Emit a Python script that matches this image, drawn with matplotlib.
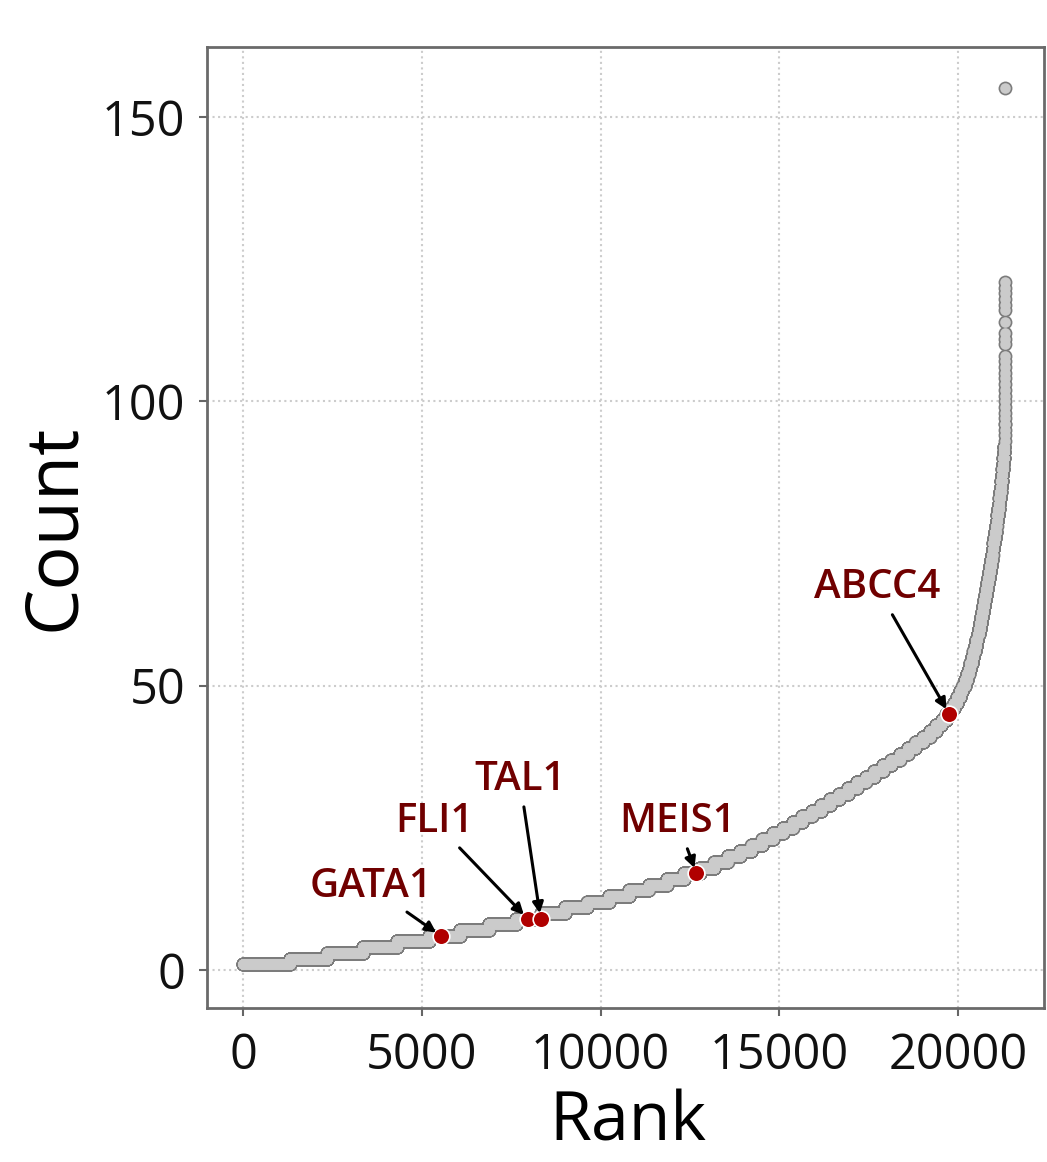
import numpy as np
import matplotlib
matplotlib.use("Agg")
import matplotlib.pyplot as plt

plt.rcParams["font.family"] = ["Open Sans", "DejaVu Sans"]

# Number of genes found at each count level 1..92 (read from the step widths)
genes_per_count = [
    1300, 1050, 1000, 950, 900, 860, 810, 760, 710,
    660, 630, 600, 570, 540, 510, 480, 450,
    400, 370, 345, 325, 305, 290, 280,
    275, 270, 265, 260, 256, 252, 249, 246, 244, 242, 240,
    238, 233, 226, 217, 206, 192, 175, 156, 135, 115,
    100, 88, 78,
    70, 63, 57, 52, 48, 45, 42, 40, 38, 36,
    34, 33, 32, 31, 30, 29, 28, 27, 27, 26, 26, 25,
    25, 24, 24, 23, 23, 22, 22, 21, 21, 20, 20, 19,
    18, 17, 17, 16, 15, 14, 13, 12, 11, 10,
]
count_levels = list(range(1, len(genes_per_count) + 1))

# Individual genes in the sparse upper tail
tail_counts = [93, 94, 95, 96, 96, 97, 98, 99, 100, 101, 102, 103, 104, 105,
               106, 107, 108, 110, 111, 112, 114, 116, 117, 118, 119, 120, 121, 155]

# Highlighted genes and their ranks
genes = ["GATA1", "FLI1", "TAL1", "MEIS1", "ABCC4"]
gene_ranks = [5530, 7960, 8320, 12680, 19750]

# Build the ranked series
counts = np.concatenate([np.repeat(count_levels, genes_per_count), tail_counts])
ranks = np.arange(len(counts))
gene_counts = counts[gene_ranks]

# label placement (data coords)
label_xy = [(3575, 14.6), (5360, 26.0), (7740, 33.4), (12150, 26.0), (17740, 67.1)]

fig = plt.figure(figsize=(10.47, 11.62), dpi=100)
ax = fig.add_axes([0.198, 0.1325, 0.799, 0.8271])

# outline layer then fill layer, so the band reads light grey with a dark rim
ax.plot(ranks, counts, "o", ms=10, mfc="#7c7c7c", mec="none", zorder=2)
ax.plot(ranks, counts, "o", ms=7.6, mfc="#cbcbcb", mec="none", zorder=2.1)
ax.plot(gene_ranks, gene_counts, "o", ms=12, mfc="#b00000", mec="white", mew=1.2, zorder=3)

for g, r, c, (tx, ty) in zip(genes, gene_ranks, gene_counts, label_xy):
    ax.annotate(g, xy=(r, c), xytext=(tx, ty), ha="center", va="center",
                fontsize=29, color="#700000", fontweight="semibold",
                arrowprops=dict(arrowstyle="-|>", color="black", lw=2.2,
                                mutation_scale=16, shrinkA=3, shrinkB=4),
                zorder=4)

ax.set_xlim(-1005, 22400)
ax.set_ylim(-6.7, 162.3)
ax.set_xticks([0, 5000, 10000, 15000, 20000])
ax.set_yticks([0, 50, 100, 150])
ax.grid(True, color="#cccccc", linestyle=":", linewidth=1.5)
ax.set_axisbelow(True)

for s in ax.spines.values():
    s.set_color("#6a6a6a")
    s.set_linewidth(2)

ax.tick_params(axis="both", labelsize=35, length=6, width=1.5, color="#666666",
               labelcolor="#111111")
ax.tick_params(axis="x", pad=11)
ax.tick_params(axis="y", pad=10)

ax.set_xlabel("Rank", fontsize=49, va="baseline")
ax.xaxis.set_label_coords(0.503, -0.138)
ax.set_ylabel("Count", fontsize=53, va="center")
ax.yaxis.set_label_coords(-0.182, 0.50)

fig.savefig("out.png", dpi=100)
